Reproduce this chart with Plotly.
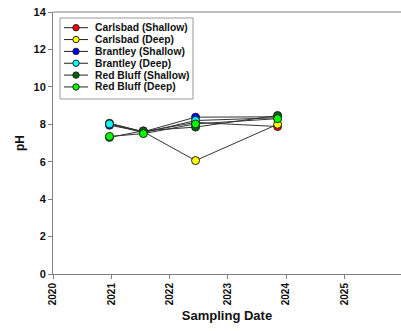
import plotly.graph_objects as go

dates = ["2020-12-20", "2021-07-20", "2022-06-12", "2023-11-08"]
series_names = ["Carlsbad (Shallow)", "Carlsbad (Deep)", "Brantley (Shallow)",
                "Brantley (Deep)", "Red Bluff (Shallow)", "Red Bluff (Deep)"]
carlsbad_shallow = [8.05, 7.6, 8.1, 7.88]
carlsbad_deep = [8.05, 7.6, 6.06, 8.0]
brantley_shallow = [7.95, 7.6, 8.38, 8.4]
brantley_deep = [8.02, 7.55, 8.2, 8.35]
red_bluff_shallow = [7.3, 7.65, 7.85, 8.47]
red_bluff_deep = [7.35, 7.5, 8.02, 8.3]
values = [carlsbad_shallow, carlsbad_deep, brantley_shallow,
          brantley_deep, red_bluff_shallow, red_bluff_deep]
colors = ["#ff0000", "#ffff00", "#0000ff", "#00ffff", "#006400", "#00ff00"]

FONT = "Liberation Sans, Arial, sans-serif"
W, H = 401, 331
ML, MR, MT, MB = 53, 0, 12, 57
PW, PH = W - ML - MR, H - MT - MB


def px(x):
    return (x - ML) / PW


def py(y):
    return 1 - (y - MT) / PH


fig = go.Figure()
for name, vals, col in zip(series_names, values, colors):
    fig.add_trace(go.Scatter(
        x=dates, y=vals, name=name, mode="lines+markers", showlegend=False,
        line=dict(color="#333333", width=1),
        marker=dict(color=col, size=8, line=dict(color="#222222", width=1)),
    ))

# compact legend box (layout decoration)
shapes = [
    dict(type="line", xref="paper", yref="paper", x0=0, x1=1, y0=1, y1=1,
         line=dict(color="#c0c0c0", width=2)),
    dict(type="rect", xref="paper", yref="paper", x0=px(60), x1=px(193),
         y0=py(99), y1=py(18), fillcolor="white",
         line=dict(color="#999999", width=1), layer="above"),
]
annotations = []
row0, step, r = 27.7, 11.85, 3.2
for i, (name, col) in enumerate(zip(series_names, colors)):
    yc = row0 + i * step
    shapes.append(dict(type="line", xref="paper", yref="paper",
                       x0=px(64), x1=px(88), y0=py(yc), y1=py(yc),
                       line=dict(color="#222222", width=1), layer="above"))
    shapes.append(dict(type="circle", xref="paper", yref="paper",
                       x0=px(76 - r), x1=px(76 + r), y0=py(yc + r), y1=py(yc - r),
                       fillcolor=col, line=dict(color="#222222", width=1),
                       layer="above"))
    annotations.append(dict(xref="paper", yref="paper", x=px(93), y=py(yc),
                            xanchor="left", yanchor="middle", showarrow=False,
                            text=name,
                            font=dict(family=FONT, size=10.3, color="#111111",
                                      weight="bold")))

fig.update_layout(
    width=W, height=H,
    margin=dict(l=ML, r=MR, t=MT, b=MB),
    paper_bgcolor="white", plot_bgcolor="white",
    font=dict(family=FONT, color="#111111"),
    showlegend=False,
    xaxis=dict(
        type="date", range=["2020-01-01", "2025-12-20"],
        dtick="M12", tick0="2020-01-01", tickformat="%Y",
        tickangle=-90, ticks="outside", ticklen=4, tickcolor="#808080",
        showgrid=False, zeroline=False,
        showline=True, linecolor="#808080", linewidth=1,
        tickfont=dict(family=FONT, size=10, color="#111111", weight="bold"),
        title=dict(text="Sampling Date", standoff=6,
                   font=dict(family=FONT, size=13, color="#111111", weight="bold")),
    ),
    yaxis=dict(
        range=[0, 14], dtick=2, ticks="outside", ticklen=4, tickcolor="#808080",
        showgrid=False, zeroline=False,
        showline=True, linecolor="#808080", linewidth=1,
        tickfont=dict(family=FONT, size=11, color="#111111", weight="bold"),
        title=dict(text="pH", standoff=6,
                   font=dict(family=FONT, size=12, color="#111111", weight="bold")),
    ),
    shapes=shapes,
    annotations=annotations,
)

fig.write_html("out.html")
